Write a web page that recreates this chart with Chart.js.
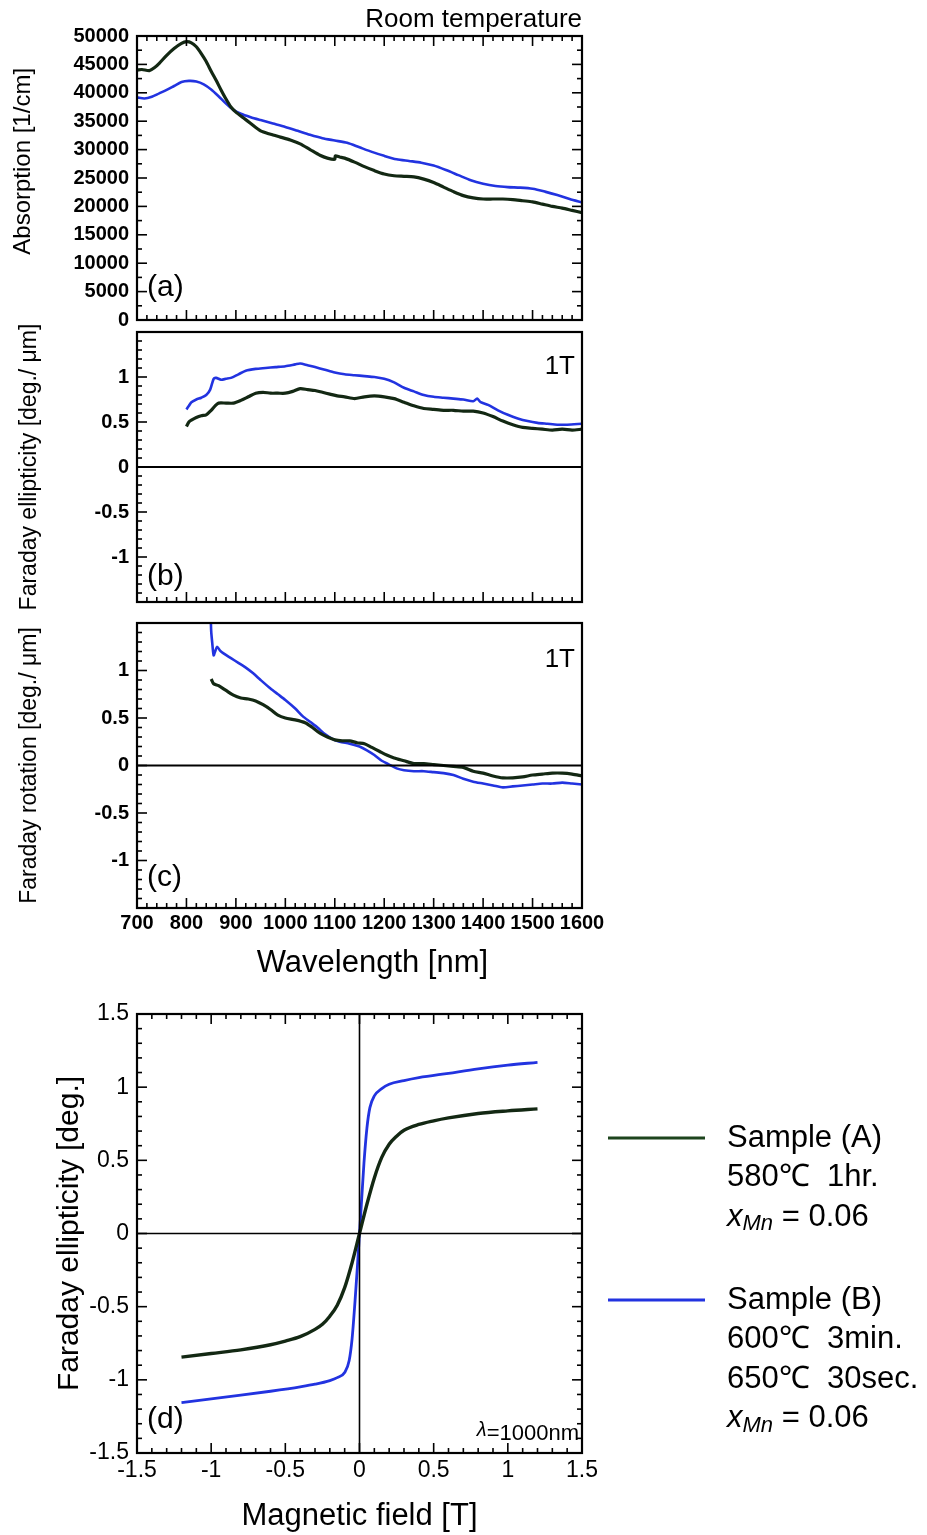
<!DOCTYPE html>
<html>
<head>
<meta charset="utf-8">
<script src="https://cdn.jsdelivr.net/npm/chart.js@4.4.1/dist/chart.umd.min.js"></script>
<style>
  body { margin: 0; background: #fff; }
  #wrap { position: relative; width: 927px; height: 1535px; background: #fff; }
  canvas { position: absolute; left: 0; }
</style>
</head>
<body>
<div id="wrap">
  <canvas id="chartA" width="927" height="340" style="top:0px"></canvas>
  <canvas id="chartB" width="927" height="310" style="top:312px"></canvas>
  <canvas id="chartC" width="927" height="380" style="top:603px"></canvas>
  <canvas id="chartD" width="927" height="545" style="top:990px"></canvas>
</div>
<script>
// (a) absorption vs wavelength
let absLambdaA = [700,710,725,735,745,760,775,790,800,810,820,830,840,850,860,870,880,890,900,915,930,950,970,990,1010,1030,1050,1070,1085,1100,1101,1110,1120,1140,1160,1180,1200,1220,1240,1260,1280,1300,1320,1340,1360,1380,1400,1420,1440,1460,1480,1500,1520,1540,1560,1580,1600];
let absA = [44000,44100,43900,44400,45200,46600,47800,48700,49000,48800,48100,46900,45500,43800,42200,40500,38900,37500,36600,35600,34600,33300,32700,32200,31700,31000,30000,29000,28500,28300,28900,28700,28500,27800,27000,26300,25700,25400,25300,25200,24800,24200,23400,22600,21900,21500,21300,21300,21300,21200,21000,20800,20400,20000,19700,19300,18900];
let absLambdaB = [700,715,730,745,760,775,790,805,820,835,850,865,880,895,910,930,950,975,1000,1025,1050,1075,1100,1125,1150,1175,1200,1225,1250,1275,1300,1325,1350,1375,1400,1425,1450,1475,1500,1525,1550,1575,1600];
let absB = [39200,39000,39300,39900,40500,41200,41900,42100,42000,41500,40600,39400,38100,37000,36300,35700,35200,34600,34000,33300,32600,32000,31600,31200,30400,29600,28900,28300,28000,27700,27200,26400,25500,24600,24000,23600,23400,23300,23100,22600,22000,21300,20700];

// (b) Faraday ellipticity at 1T
let ellLambdaA = [800,805,810,820,830,840,850,858,865,880,895,910,925,940,955,970,985,1000,1015,1030,1045,1060,1075,1090,1105,1120,1140,1160,1180,1200,1220,1240,1260,1280,1300,1320,1340,1360,1380,1400,1420,1440,1460,1480,1500,1520,1540,1560,1580,1600];
let ellA = [0.45,0.50,0.52,0.55,0.57,0.58,0.63,0.68,0.71,0.71,0.71,0.74,0.78,0.82,0.83,0.82,0.82,0.82,0.84,0.87,0.86,0.85,0.83,0.81,0.79,0.78,0.76,0.78,0.79,0.78,0.76,0.72,0.68,0.65,0.64,0.63,0.63,0.62,0.62,0.60,0.56,0.51,0.47,0.44,0.43,0.42,0.41,0.42,0.41,0.42];
let ellLambdaB = [800,805,810,820,830,840,848,855,860,870,880,890,905,920,940,960,980,1000,1020,1030,1045,1060,1080,1100,1120,1140,1160,1180,1200,1220,1240,1260,1280,1300,1320,1340,1360,1380,1388,1395,1410,1430,1450,1470,1490,1510,1530,1550,1570,1600];
let ellB = [0.64,0.68,0.72,0.75,0.77,0.80,0.86,0.98,0.99,0.97,0.98,0.99,1.03,1.07,1.09,1.10,1.11,1.12,1.14,1.15,1.13,1.11,1.08,1.05,1.03,1.02,1.01,1.00,0.98,0.94,0.88,0.84,0.80,0.78,0.77,0.76,0.75,0.73,0.76,0.72,0.69,0.63,0.58,0.54,0.51,0.49,0.48,0.47,0.47,0.48];

// (c) Faraday rotation at 1T
let rotLambdaA = [850,855,865,880,895,910,925,940,955,970,985,1000,1020,1040,1055,1070,1085,1100,1115,1130,1145,1160,1175,1190,1205,1220,1240,1260,1280,1300,1320,1340,1360,1380,1400,1420,1440,1460,1480,1500,1520,1540,1560,1580,1600];
let rotA = [0.91,0.86,0.84,0.79,0.74,0.71,0.70,0.68,0.64,0.59,0.53,0.50,0.48,0.45,0.40,0.34,0.30,0.27,0.26,0.26,0.24,0.23,0.19,0.15,0.11,0.08,0.05,0.02,0.02,0.01,0.00,-0.01,-0.02,-0.06,-0.08,-0.11,-0.13,-0.13,-0.12,-0.10,-0.09,-0.08,-0.08,-0.09,-0.11];
let rotLambdaB = [849,850,852,855,858,862,868,875,890,905,920,935,950,970,985,1000,1020,1035,1050,1065,1080,1095,1110,1130,1150,1165,1180,1195,1210,1225,1240,1260,1280,1300,1320,1340,1360,1380,1400,1420,1440,1460,1480,1500,1520,1540,1560,1580,1600];
let rotB = [1.60,1.42,1.30,1.16,1.20,1.25,1.21,1.18,1.13,1.08,1.03,0.97,0.90,0.81,0.75,0.69,0.60,0.52,0.46,0.40,0.33,0.28,0.25,0.23,0.20,0.16,0.11,0.05,0.01,-0.03,-0.05,-0.06,-0.06,-0.07,-0.08,-0.10,-0.14,-0.17,-0.19,-0.21,-0.23,-0.22,-0.21,-0.20,-0.19,-0.19,-0.18,-0.19,-0.20];

// (d) ellipticity vs magnetic field at 1000 nm
let fieldA = [-1.2,-1.0,-0.8,-0.6,-0.5,-0.4,-0.3,-0.25,-0.2,-0.15,-0.1,-0.05,0,0.05,0.1,0.15,0.2,0.25,0.3,0.4,0.5,0.6,0.8,1.0,1.2];
let fieldEllA = [-0.845,-0.82,-0.795,-0.76,-0.735,-0.705,-0.655,-0.62,-0.565,-0.49,-0.37,-0.2,0,0.2,0.38,0.52,0.61,0.665,0.705,0.745,0.77,0.79,0.82,0.838,0.852];
let fieldB = [-1.2,-1.0,-0.8,-0.6,-0.4,-0.3,-0.2,-0.15,-0.1,-0.07,-0.05,-0.03,-0.015,0,0.015,0.03,0.05,0.07,0.1,0.15,0.2,0.3,0.4,0.6,0.8,1.0,1.2];
let fieldEllB = [-1.155,-1.13,-1.105,-1.078,-1.048,-1.03,-1.005,-0.985,-0.95,-0.87,-0.72,-0.46,-0.24,0,0.24,0.48,0.72,0.86,0.94,0.99,1.02,1.045,1.065,1.095,1.125,1.15,1.17];

let sampleNames = ['Sample (A)', 'Sample (B)'];
let sampleInfo = [['580\u2103  1hr.'], ['600\u2103  3min.', '650\u2103  30sec.']];
let xMnValue = '0.06';

const colA = '#132813';
const colB = '#2233e0';
const FONT = '"Liberation Sans", Arial, Helvetica, sans-serif';
Chart.defaults.font.family = FONT;
Chart.defaults.color = '#000';

function pts(xs, ys) { return xs.map((x, i) => ({x: x, y: ys[i]})); }

function series(label, xs, ys, color, w) {
    return {
        label: label,
        data: pts(xs, ys),
        borderColor: color,
        backgroundColor: color,
        borderWidth: w,
        pointRadius: 0,
        tension: 0.25,
        clip: 0
    };
}

// inward tick marks, frame and zero lines
const framePlugin = {
    id: 'frame',
    afterDatasetsDraw(chart, args, o) {
        const {ctx, chartArea: a} = chart;
        const x = chart.scales.x, y = chart.scales.y;
        ctx.save();
        ctx.strokeStyle = '#000';
        function seg(x1, y1, x2, y2) { ctx.beginPath(); ctx.moveTo(x1, y1); ctx.lineTo(x2, y2); ctx.stroke(); }
        ctx.lineWidth = o.zeroWidth || 2;
        if (o.zeroY) { let p = y.getPixelForValue(0); seg(a.left, p, a.right, p); }
        if (o.zeroX) { let p = x.getPixelForValue(0); seg(p, a.top, p, a.bottom); }
        ctx.lineWidth = 1.6;
        let n = Math.round((x.max - x.min) / o.xMinor);
        for (let i = 0; i <= n; i++) {
            let v = x.min + i * o.xMinor;
            let r = v / o.xMajor;
            let len = Math.abs(r - Math.round(r)) < 1e-6 ? 10 : 5;
            let p = x.getPixelForValue(v);
            seg(p, a.bottom, p, a.bottom - len);
            if (o.top) seg(p, a.top, p, a.top + len);
        }
        n = Math.round((y.max - y.min) / o.yMinor);
        for (let i = 0; i <= n; i++) {
            let v = y.min + i * o.yMinor;
            let r = v / o.yMajor;
            let len = Math.abs(r - Math.round(r)) < 1e-6 ? 10 : 5;
            let p = y.getPixelForValue(v);
            seg(a.left, p, a.left + len, p);
            if (o.right) seg(a.right, p, a.right - len, p);
        }
        ctx.lineWidth = 2.2;
        ctx.strokeRect(a.left, a.top, a.right - a.left, a.bottom - a.top);
        ctx.restore();
    }
};

// small texts inside the panels
const notePlugin = {
    id: 'notes',
    afterDraw(chart, args, o) {
        const {ctx, chartArea: a} = chart;
        ctx.save();
        ctx.fillStyle = '#000';
        (o.items || []).forEach(t => {
            ctx.font = t.font + ' ' + FONT;
            ctx.textAlign = t.align;
            ctx.textBaseline = 'middle';
            let px = t.align === 'left' ? a.left + t.dx : a.right - t.dx;
            let py = t.from === 'top' ? a.top + t.dy : a.bottom - t.dy;
            ctx.fillText(t.text, px, py);
        });
        if (o.lambda) {
            ctx.textAlign = 'left';
            ctx.textBaseline = 'alphabetic';
            let rest = '=1000nm';
            ctx.font = '22px ' + FONT;
            let wRest = ctx.measureText(rest).width;
            ctx.font = 'italic 20px ' + FONT;
            let wL = ctx.measureText('\u03bb').width;
            let x0 = a.right - 3 - wRest - wL;
            ctx.fillText('\u03bb', x0, a.bottom - 17);
            ctx.font = '22px ' + FONT;
            ctx.fillText(rest, x0 + wL, a.bottom - 13);
        }
        ctx.restore();
    }
};

// legend at right of panel (d)
const sideLegend = {
    id: 'sideLegend',
    afterDraw(chart) {
        const ctx = chart.ctx;
        const top0 = 990;
        const blocks = [1138, 1300];
        ctx.save();
        chart.data.datasets.forEach((ds, i) => {
            let y = blocks[i] - top0;
            ctx.strokeStyle = i === 0 ? '#1d441d' : ds.borderColor;
            ctx.lineWidth = 3;
            ctx.beginPath(); ctx.moveTo(608, y); ctx.lineTo(705, y); ctx.stroke();
            let lines = [sampleNames[i]].concat(sampleInfo[i]);
            ctx.fillStyle = '#000';
            ctx.textAlign = 'left';
            ctx.textBaseline = 'middle';
            let ly = y;
            lines.forEach(s => {
                ctx.font = '31px ' + FONT;
                ctx.fillText(s, 727, ly);
                ly += 39.5;
            });
            // x_Mn = 0.06
            ctx.font = 'italic 31px ' + FONT;
            ctx.fillText('x', 727, ly);
            let w = ctx.measureText('x').width;
            ctx.font = 'italic 22px ' + FONT;
            ctx.fillText('Mn', 727 + w, ly + 7);
            w += ctx.measureText('Mn').width;
            ctx.font = '31px ' + FONT;
            ctx.fillText(' = ' + xMnValue, 727 + w, ly);
        });
        ctx.restore();
    }
};

function yAxis(min, max, step, title, titleSize, titlePad, tickFont, hideEnds) {
    return {
        type: 'linear', position: 'left', min: min, max: max,
        grid: { display: false, drawTicks: false },
        border: { display: false },
        afterFit(s) { s.width = 137; },
        ticks: {
            stepSize: step, padding: 8, font: tickFont, color: '#000',
            callback: v => (hideEnds && Math.abs(v) === 1.5) ? '' : String(v)
        },
        title: { display: true, text: title, font: { size: titleSize }, color: '#000', padding: { top: titlePad, bottom: 0 } }
    };
}

function baseOptions(pad) {
    return {
        responsive: false,
        animation: false,
        devicePixelRatio: 1,
        layout: { padding: pad },
        plugins: { legend: { display: false }, tooltip: { enabled: false } }
    };
}

const waveX = { type: 'linear', min: 700, max: 1600, display: false };
const tickBold = { size: 20, weight: 'bold' };

// panel (a)
let optA = baseOptions({ left: 0, right: 345, top: 36, bottom: 18 });
optA.scales = { x: waveX, y: yAxis(0, 50000, 5000, '     Absorption [1/cm]', 24, 9, tickBold, false) };
optA.plugins.frame = { xMinor: 20, xMajor: 100, yMinor: 2500, yMajor: 5000, top: true, right: true };
optA.plugins.notes = { items: [
    { text: 'Room temperature', font: '26px', align: 'right', dx: 0, from: 'top', dy: -16 },
    { text: '(a)', font: '30px', align: 'left', dx: 10, from: 'bottom', dy: 32 }
] };
new Chart(document.getElementById('chartA'), {
    type: 'line',
    data: { datasets: [series('Sample (A)', absLambdaA, absA, colA, 3.2), series('Sample (B)', absLambdaB, absB, colB, 2.6)] },
    options: optA,
    plugins: [framePlugin, notePlugin]
});

// panel (b)
let optB = baseOptions({ left: 0, right: 345, top: 10, bottom: 9 });
optB.scales = { x: waveX, y: yAxis(-1.5, 1.5, 0.5, 'Faraday ellipticity [deg./ \u03bcm]', 23, 16, tickBold, true) };
optB.plugins.frame = { xMinor: 20, xMajor: 100, yMinor: 0.1, yMajor: 0.5, zeroY: true };
optB.plugins.notes = { items: [
    { text: '1T', font: '26px', align: 'right', dx: 7, from: 'top', dy: 35 },
    { text: '(b)', font: '30px', align: 'left', dx: 10, from: 'bottom', dy: 25 }
] };
new Chart(document.getElementById('chartB'), {
    type: 'line',
    data: { datasets: [series('Sample (A)', ellLambdaA, ellA, colA, 3.2), series('Sample (B)', ellLambdaB, ellB, colB, 2.6)] },
    options: optB,
    plugins: [framePlugin, notePlugin]
});

// panel (c)
let optC = baseOptions({ left: 0, right: 345, top: 10, bottom: 0 });
optC.scales = {
    x: {
        type: 'linear', min: 700, max: 1600,
        grid: { display: false, drawTicks: false }, border: { display: false },
        afterFit(s) { s.height = 75; },
        ticks: { stepSize: 100, padding: 3, font: tickBold, color: '#000', maxRotation: 0, autoSkip: false, callback: v => String(v) },
        title: { display: true, text: '   Wavelength [nm]', font: { size: 31 }, color: '#000', padding: { top: 0, bottom: 1 } }
    },
    y: yAxis(-1.5, 1.5, 0.5, 'Faraday rotation [deg./ \u03bcm]', 23, 16, tickBold, true)
};
optC.plugins.frame = { xMinor: 20, xMajor: 100, yMinor: 0.1, yMajor: 0.5, zeroY: true };
optC.plugins.notes = { items: [
    { text: '1T', font: '26px', align: 'right', dx: 7, from: 'top', dy: 37 },
    { text: '(c)', font: '30px', align: 'left', dx: 10, from: 'bottom', dy: 30 }
] };
new Chart(document.getElementById('chartC'), {
    type: 'line',
    data: { datasets: [series('Sample (A)', rotLambdaA, rotA, colA, 3.2), series('Sample (B)', rotLambdaB, rotB, colB, 2.6)] },
    options: optC,
    plugins: [framePlugin, notePlugin]
});

// panel (d)
let optD = baseOptions({ left: 0, right: 345, top: 24, bottom: 0 });
optD.scales = {
    x: {
        type: 'linear', min: -1.5, max: 1.5,
        grid: { display: false, drawTicks: false }, border: { display: false },
        afterFit(s) { s.height = 82; },
        ticks: { stepSize: 0.5, padding: 4, font: { size: 23 }, color: '#000', maxRotation: 0, autoSkip: false, callback: v => String(v) },
        title: { display: true, text: 'Magnetic field [T]', font: { size: 31 }, color: '#000', padding: { top: 0, bottom: 0 } }
    },
    y: yAxis(-1.5, 1.5, 0.5, 'Faraday ellipticity [deg.]', 30, 52, { size: 23 }, false)
};
optD.plugins.frame = { xMinor: 0.1, xMajor: 0.5, yMinor: 0.1, yMajor: 0.5, top: true, right: true, zeroX: true, zeroY: true, zeroWidth: 1.6 };
optD.plugins.notes = { items: [
    { text: '(d)', font: '30px', align: 'left', dx: 10, from: 'bottom', dy: 33 }
], lambda: true };
let dsDA = series('Sample (A)', fieldA, fieldEllA, colA, 3.4);
let dsDB = series('Sample (B)', fieldB, fieldEllB, colB, 2.8);
dsDA.cubicInterpolationMode = 'monotone';
dsDB.cubicInterpolationMode = 'monotone';
new Chart(document.getElementById('chartD'), {
    type: 'line',
    data: { datasets: [dsDA, dsDB] },
    options: optD,
    plugins: [framePlugin, notePlugin, sideLegend]
});
</script>
</body>
</html>
